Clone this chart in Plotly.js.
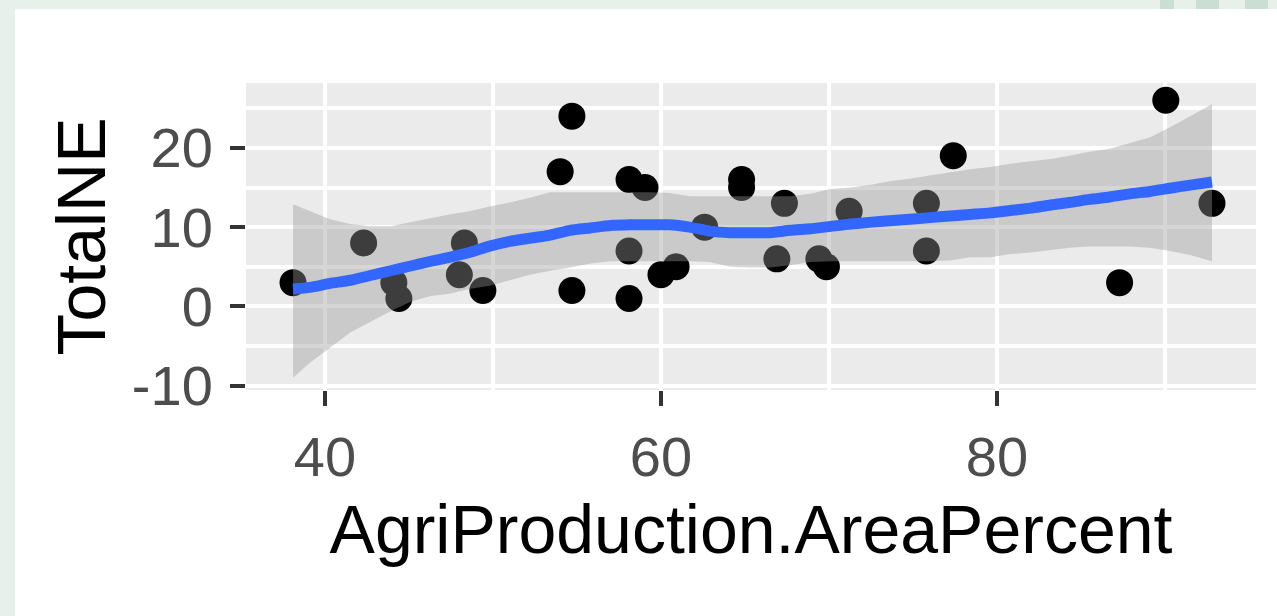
<!DOCTYPE html>
<html>
<head>
<meta charset="utf-8">
<script src="https://cdn.plot.ly/plotly-3.0.1.min.js"></script>
<style>
html, body { margin: 0; padding: 0; width: 1277px; height: 616px; overflow: hidden; background: #e7f0eb; }
#chart { position: absolute; left: 15px; top: 9px; width: 1262px; height: 607px; background: #ffffff; }
.blk { position: absolute; top: 0; height: 9px; background: #c9dfd3; }
</style>
</head>
<body>
<div class="blk" style="left:1160px;width:14px"></div>
<div class="blk" style="left:1196px;width:23px"></div>
<div class="blk" style="left:1245px;width:23px"></div>
<div id="chart"></div>
<script>
// Scatter points (AgriProduction.AreaPercent vs TotalNE)
const pointX = [38.1, 42.3, 44.1, 44.4, 48.3, 48.0, 49.4, 54.0, 54.7, 54.7,
                58.1, 59.05, 58.1, 58.1, 60.0, 60.9, 62.6, 64.8, 64.8, 67.35,
                66.9, 69.4, 69.85, 71.2, 75.8, 75.8, 77.4, 87.3, 90.05, 92.8];
const pointY = [3, 8, 3, 1, 8, 4, 2, 17, 24, 2,
                16, 15, 7, 1, 4, 5, 10, 16, 15, 13,
                6, 6, 5, 12, 13, 7, 19, 3, 26, 13];

// Loess smooth
const smoothX = [38.1, 39.1, 40.3, 41.5, 42.7, 43.9, 45.1, 46.3, 47.4, 48.6,
                 49.8, 51.0, 52.2, 53.4, 54.6, 55.8, 57.0, 58.2, 59.3, 60.5,
                 61.7, 62.9, 64.1, 65.3, 66.5, 67.7, 68.9, 70.1, 71.3, 72.4,
                 73.6, 74.8, 76.0, 77.2, 78.4, 79.6, 80.8, 82.0, 83.2, 84.3,
                 85.5, 86.7, 87.9, 89.1, 90.3, 91.5, 92.8];
const smoothFit = [2.2, 2.4, 2.9, 3.3, 3.9, 4.5, 5.1, 5.7, 6.2, 6.8,
                   7.6, 8.2, 8.6, 9.0, 9.6, 9.9, 10.2, 10.3, 10.3, 10.3,
                   10.0, 9.5, 9.3, 9.3, 9.3, 9.6, 9.8, 10.1, 10.4, 10.6,
                   10.8, 11.0, 11.2, 11.4, 11.6, 11.8, 12.1, 12.4, 12.8, 13.1,
                   13.5, 13.8, 14.2, 14.5, 14.9, 15.3, 15.7];
const smoothUpper = [12.9, 12.0, 11.0, 10.4, 10.1, 10.1, 10.6, 11.1, 11.6, 12.0,
                     12.6, 13.1, 13.7, 14.4, 14.4, 14.4, 14.4, 14.4, 14.4, 14.3,
                     13.9, 13.9, 13.9, 13.9, 13.9, 13.9, 14.2, 14.8, 15.0, 15.3,
                     15.8, 16.1, 16.5, 16.9, 17.3, 17.6, 18.0, 18.3, 18.6, 19.0,
                     19.5, 19.9, 20.6, 21.3, 22.6, 24.0, 25.5];
const smoothLower = [-9.0, -7.1, -5.2, -3.3, -1.9, -0.6, 0.6, 1.3, 1.6, 2.2,
                     2.6, 3.3, 4.0, 4.5, 4.9, 5.4, 5.7, 5.7, 5.7, 5.7,
                     5.7, 5.6, 5.0, 4.9, 4.9, 5.2, 5.6, 5.7, 5.7, 5.7,
                     5.7, 5.7, 5.7, 5.8, 6.2, 6.2, 6.6, 6.8, 7.1, 7.4,
                     7.55, 7.55, 7.55, 7.4, 7.0, 6.5, 5.7];

// Ticks
const xTickVals = [40, 60, 80];
const xTickText = ['40', '60', '80'];
const xMinorVals = [50, 70, 90];
const yTickVals = [-10, 0, 10, 20];
const yTickText = ['-10', '0', '10', '20'];
const yMinorVals = [-5, 5, 15, 25];

const bandX = smoothX.concat(smoothX.slice().reverse());
const bandY = smoothUpper.concat(smoothLower.slice().reverse());

const traces = [
  {
    type: 'scatter', mode: 'markers', x: pointX, y: pointY,
    marker: { color: '#000000', size: 27, line: { width: 0 } },
    hoverinfo: 'skip'
  },
  {
    type: 'scatter', mode: 'lines', x: bandX, y: bandY,
    fill: 'toself', fillcolor: 'rgba(153,153,153,0.4)',
    line: { width: 0, color: 'rgba(0,0,0,0)' }, hoverinfo: 'skip'
  },
  {
    type: 'scatter', mode: 'lines', x: smoothX, y: smoothFit,
    line: { color: '#3366FF', width: 11, shape: 'spline', smoothing: 0.6 },
    hoverinfo: 'skip'
  }
];

const font = 'Liberation Sans, Arial, Helvetica, sans-serif';

const layout = {
  width: 1262, height: 607,
  margin: { l: 231, r: 21, t: 74, b: 226, pad: 0 },
  paper_bgcolor: '#ffffff',
  plot_bgcolor: '#ebebeb',
  showlegend: false,
  font: { family: font, color: '#4d4d4d' },
  xaxis: {
    range: [35.3, 95.42],
    tickmode: 'array', tickvals: xTickVals, ticktext: xTickText,
    ticks: 'outside', ticklen: 15, tickwidth: 4, tickcolor: '#333333',
    tickfont: { family: font, size: 56, color: '#4d4d4d' },
    ticklabelstandoff: 3,
    showgrid: true, gridcolor: '#ffffff', gridwidth: 4,
    minor: { tickmode: 'array', tickvals: xMinorVals, showgrid: true, gridcolor: '#ffffff', gridwidth: 4, ticks: '' },
    zeroline: false, showline: false, automargin: false, fixedrange: true,
    title: { text: 'AgriProduction.AreaPercent', font: { family: font, size: 68, color: '#000000' }, standoff: 18 }
  },
  yaxis: {
    range: [-10.54, 28.18],
    tickmode: 'array', tickvals: yTickVals, ticktext: yTickText,
    ticks: 'outside', ticklen: 15, tickwidth: 4, tickcolor: '#333333',
    tickfont: { family: font, size: 56, color: '#4d4d4d' },
    ticklabelstandoff: 6,
    showgrid: true, gridcolor: '#ffffff', gridwidth: 4,
    minor: { tickmode: 'array', tickvals: yMinorVals, showgrid: true, gridcolor: '#ffffff', gridwidth: 4, ticks: '' },
    zeroline: false, showline: false, automargin: false, fixedrange: true,
    title: { text: 'TotalNE', font: { family: font, size: 68, color: '#000000' }, standoff: 4 }
  }
};

Plotly.newPlot('chart', traces, layout, { staticPlot: true, displayModeBar: false });
</script>
</body>
</html>
